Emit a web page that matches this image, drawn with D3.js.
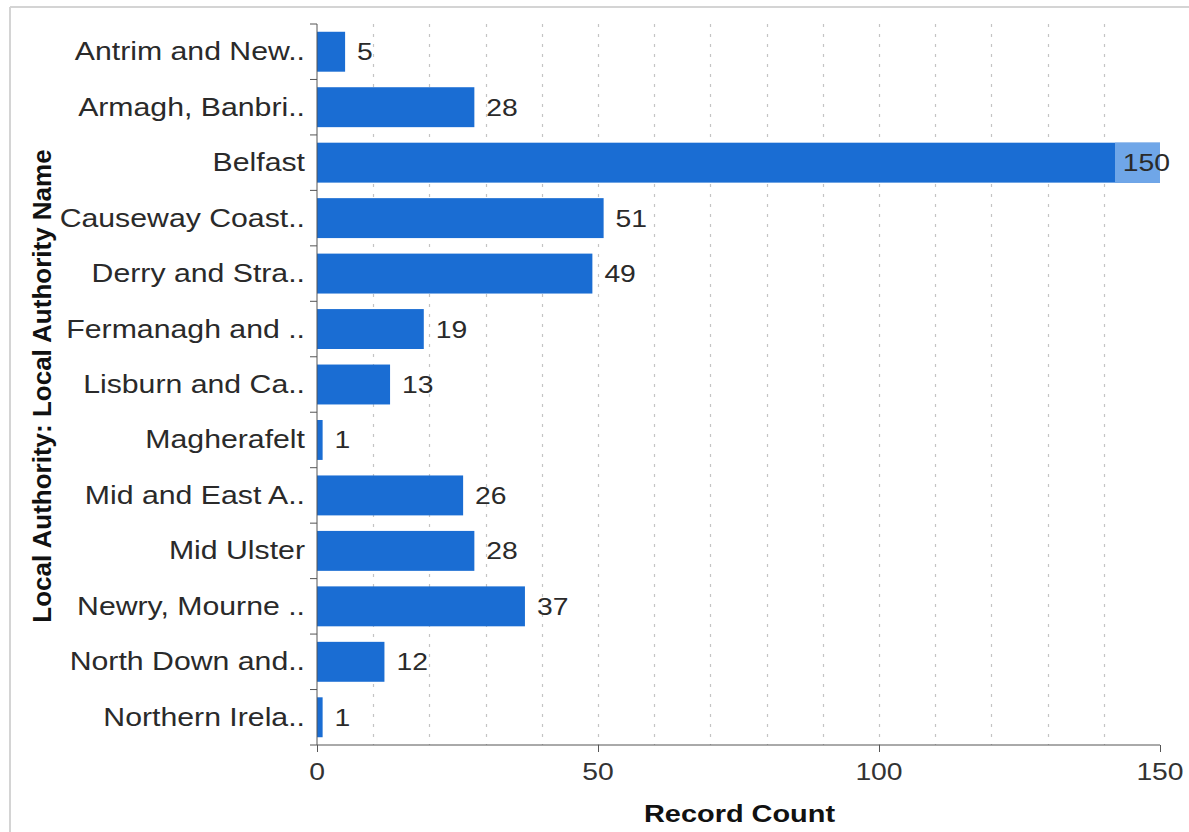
<!DOCTYPE html>
<html>
<head>
<meta charset="utf-8">
<script src="https://cdn.jsdelivr.net/npm/d3@7"></script>
<style>
  html, body { margin: 0; padding: 0; background: #fff; }
  svg { display: block; font-family: "Liberation Sans", Arial, sans-serif; }
</style>
</head>
<body>
<svg id="chart" width="1189" height="832"></svg>
<script>
const categories = [
  "Antrim and New..", "Armagh, Banbri..", "Belfast", "Causeway Coast..",
  "Derry and Stra..", "Fermanagh and ..", "Lisburn and Ca..", "Magherafelt",
  "Mid and East A..", "Mid Ulster", "Newry, Mourne ..", "North Down and..",
  "Northern Irela.."
];
const values = [5, 28, 150, 51, 49, 19, 13, 1, 26, 28, 37, 12, 1];
const xTicks = [0, 50, 100, 150];
const gridTicks = [10, 20, 30, 40, 50, 60, 70, 80, 90, 100, 110, 120, 130, 140];
const xTitle = "Record Count";
const yTitle = "Local Authority: Local Authority Name";

(function () {
const svg = d3.select("#chart");
const pL = 317, pR = 1160, pT = 24, pB = 745;
const SX = 1.18;

// frame
svg.append("line").attr("x1", 10).attr("x2", 1189).attr("y1", 7).attr("y2", 7)
  .attr("stroke", "#d4d4d4").attr("stroke-width", 2);
svg.append("line").attr("x1", 10).attr("x2", 10).attr("y1", 7).attr("y2", 832)
  .attr("stroke", "#d4d4d4").attr("stroke-width", 2);

const x = d3.scaleLinear().domain([0, 150]).range([pL, pR]);
const y = d3.scaleBand().domain(categories).range([pT, pB])
  .paddingInner(0.28).paddingOuter(0.14);

// grid
svg.append("g").selectAll("line").data(gridTicks).join("line")
  .attr("x1", d => Math.round(x(d)) + 0.5).attr("x2", d => Math.round(x(d)) + 0.5)
  .attr("y1", pT).attr("y2", pB)
  .attr("stroke", "#c4c4c4").attr("stroke-width", 1.2)
  .attr("stroke-dasharray", "3,7");

// bars
svg.append("g").selectAll("rect").data(categories).join("rect")
  .attr("x", x(0))
  .attr("y", d => y(d))
  .attr("width", (d, i) => x(values[i]) - x(0))
  .attr("height", y.bandwidth())
  .attr("fill", "#1a6dd3");

function stext(g, tx, ty, str, size, anchor, weight, fill, sx) {
  return g.append("text")
    .attr("transform", `translate(${tx},${ty}) scale(${sx || SX},1)`)
    .attr("text-anchor", anchor).attr("font-size", size)
    .attr("font-weight", weight || "normal").attr("fill", fill || "#2a2a2a")
    .text(str);
}

// value labels
const lab = svg.append("g");
categories.forEach((c, i) => {
  const v = values[i];
  const cy = y(c) + y.bandwidth() / 2 + 8.5;
  if (v === 150) {
    lab.append("rect").attr("x", x(v) - 45).attr("y", y(c))
      .attr("width", 45).attr("height", y.bandwidth()).attr("fill", "#6fa6e8");
    stext(lab, x(v) + 10, cy, v, 24, "end");
  } else {
    stext(lab, x(v) + 12, cy, v, 24, "start");
  }
});

// y axis
const yAxis = d3.axisLeft(y).tickSize(0).tickFormat("");
const gy = svg.append("g").attr("transform", `translate(${pL},0)`).call(yAxis);
gy.select(".domain").attr("stroke", "#555").attr("d", `M0,${pT}V${pB}`);
const ylab = svg.append("g");
categories.forEach(c => {
  stext(ylab, pL - 12, y(c) + y.bandwidth() / 2 + 8.5, c, 25, "end", "normal", "#2a2a2a", 1.21);
});
// band boundary ticks
const bounds = categories.map(c => y(c) - y.step() * y.paddingInner() / 2);
bounds.push(pB);
bounds[0] = pT;
svg.append("g").selectAll("line").data(bounds).join("line")
  .attr("x1", pL - 7).attr("x2", pL).attr("y1", d => d).attr("y2", d => d)
  .attr("stroke", "#555");

// x axis
const xAxis = d3.axisBottom(x).tickValues(xTicks).tickSize(7).tickFormat("");
const gx = svg.append("g").attr("transform", `translate(0,${pB})`).call(xAxis);
gx.select(".domain").attr("stroke", "#555").attr("d", `M${pL},0H${pR}`);
gx.selectAll(".tick line").attr("stroke", "#555");
const xlab = svg.append("g");
xTicks.forEach(t => stext(xlab, x(t), 780, t, 24, "middle", "normal", "#333"));

// titles
stext(svg, (pL + pR) / 2 + 1, 822, xTitle, 24.5, "middle", "bold", "#111");
svg.append("text").attr("transform", `translate(51,${386}) rotate(-90)`)
  .attr("text-anchor", "middle").attr("font-size", 26).attr("font-weight", "bold")
  .attr("fill", "#111").text(yTitle);
})();
</script>
</body>
</html>
